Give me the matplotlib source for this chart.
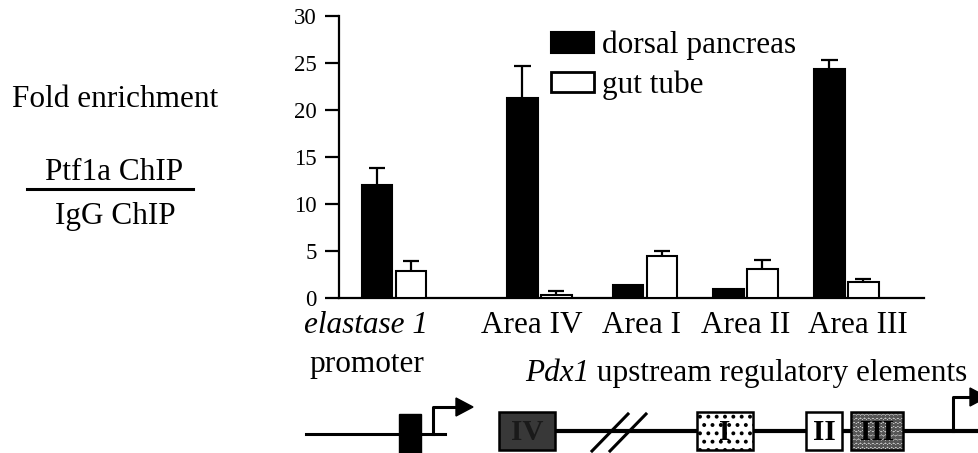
import matplotlib
matplotlib.use("Agg")
from matplotlib import pyplot as plt
from matplotlib.patches import Patch, Rectangle, Polygon

plt.rcParams['font.family'] = ['Liberation Serif', 'DejaVu Serif']
plt.rcParams['hatch.linewidth'] = 1.6

# data
groups = ['elastase 1 promoter', 'Area IV', 'Area I', 'Area II', 'Area III']
dorsal = [12.0, 21.3, 1.4, 1.0, 24.4]
dorsal_err = [1.9, 3.4, 0.0, 0.0, 0.9]
gut = [2.9, 0.4, 4.5, 3.1, 1.7]
gut_err = [1.05, 0.35, 0.5, 1.0, 0.35]
yticks = [0, 5, 10, 15, 20, 25, 30]
series_names = ['dorsal pancreas', 'gut tube']

# layout
centers = [0.0, 1.44, 2.485, 3.48, 4.48]
off = 0.168
bw = 0.305
cap = 0.08
FS = 22.5

fig = plt.figure(figsize=(9.79, 4.53), dpi=100)

# overlay in pixel coords for labels and the gene diagram
ov = fig.add_axes([0, 0, 1, 1])
ov.set_xlim(0, 979)
ov.set_ylim(453, 0)
ov.axis('off')

ax = fig.add_axes([339 / 979, (453 - 298.3) / 453, 585 / 979, 282.3 / 453])

xd = [c - off for c in centers]
xg = [c + off for c in centers]
ax.bar(xd, dorsal, bw, color='black', edgecolor='black', linewidth=1.5, zorder=3)
ax.bar(xg, gut, bw, color='white', edgecolor='black', linewidth=1.5, zorder=3)

for xs, vals, errs in [(xd, dorsal, dorsal_err), (xg, gut, gut_err)]:
    for x, v, e in zip(xs, vals, errs):
        if e <= 0:
            continue
        ax.vlines(x, v, v + e, color='black', lw=1.6, zorder=2)
        ax.hlines(v + e, x - cap, x + cap, color='black', lw=1.6, zorder=2)

ax.set_xlim(-0.545, 5.248)
ax.set_ylim(0, 30)
ax.set_yticks(yticks)
ax.set_yticklabels([str(t) for t in yticks], fontsize=16.5)
ax.set_xticks([])
for s in ['top', 'right']:
    ax.spines[s].set_visible(False)
for s in ['left', 'bottom']:
    ax.spines[s].set_linewidth(1.6)
ax.tick_params(axis='y', direction='out', length=10, width=1.6, pad=6)
ax.patch.set_alpha(0)

handles = [Patch(facecolor='black', edgecolor='black', lw=1.5),
           Patch(facecolor='white', edgecolor='black', lw=2)]
ax.legend(handles, series_names, loc='upper left',
          bbox_to_anchor=(551 / 979, (453 - 31) / 453), bbox_transform=fig.transFigure,
          frameon=False, borderpad=0, borderaxespad=0, handlelength=1.37,
          handleheight=0.62, handletextpad=0.25, labelspacing=0.32,
          prop={'size': FS})

# left y label as a fraction
ov.text(115, 107, 'Fold enrichment', fontsize=FS, ha='center', va='baseline')
ov.text(114, 180, 'Ptf1a ChIP', fontsize=FS, ha='center', va='baseline')
ov.plot([27, 193], [189, 189], color='black', lw=2.2)
ov.text(115, 224, 'IgG ChIP', fontsize=FS, ha='center', va='baseline')

# category labels
ov.text(366, 333, 'elastase 1', fontsize=FS, style='italic', ha='center', va='baseline')
ov.text(367, 372, 'promoter', fontsize=FS, ha='center', va='baseline')
label_x = [532, 642, 746, 858]
for name, x in zip(groups[1:], label_x):
    ov.text(x, 333, name, fontsize=FS, ha='center', va='baseline')
t1 = ov.text(525, 388, 'Pdx1', fontsize=FS, style='italic', ha='left', va='bottom')
ov.annotate(' upstream regulatory elements', xy=(1, 0), xycoords=t1,
            fontsize=FS, ha='left', va='bottom')

# elastase promoter diagram
ov.plot([306, 445], [434, 434], color='black', lw=2.2)
ov.add_patch(Rectangle((399, 414), 22, 42, facecolor='black', edgecolor='black'))
ov.plot([433, 433, 458], [434, 407, 407], color='black', lw=2.2)
ov.add_patch(Polygon([(456, 398), (473, 407), (456, 416)], closed=True, color='black'))

# Pdx1 diagram
ov.plot([555, 979], [431, 431], color='black', lw=3, zorder=1)
ov.plot([592, 628], [451, 414], color='black', lw=2.2)
ov.plot([610, 646], [451, 414], color='black', lw=2.2)
boxes = [
    (499, 56, '#383838', None, '#383838', 'IV', '#1a1a1a'),
    (697, 56, 'white', '..', 'black', 'I', 'black'),
    (806, 36, 'white', None, 'white', 'II', 'black'),
    (851, 52, '#d0d0d0', 'oooo', '#555555', 'III', 'black'),
]
for x0, w, fc, hatch, hc, lab, tc in boxes:
    ov.add_patch(Rectangle((x0, 412), w, 38, facecolor=fc, edgecolor=hc,
                           lw=0, hatch=hatch, zorder=2))
    ov.add_patch(Rectangle((x0, 412), w, 38, facecolor='none', edgecolor='black',
                           lw=1.8, zorder=3))
    ov.text(x0 + w / 2, 432, lab, fontsize=21, fontweight='bold', color=tc,
            ha='center', va='center', zorder=4)
ov.plot([953, 953, 972], [431, 397, 397], color='black', lw=2.2)
ov.add_patch(Polygon([(970, 388), (987, 397), (970, 406)], closed=True, color='black'))

fig.savefig('out.png', dpi=100)
